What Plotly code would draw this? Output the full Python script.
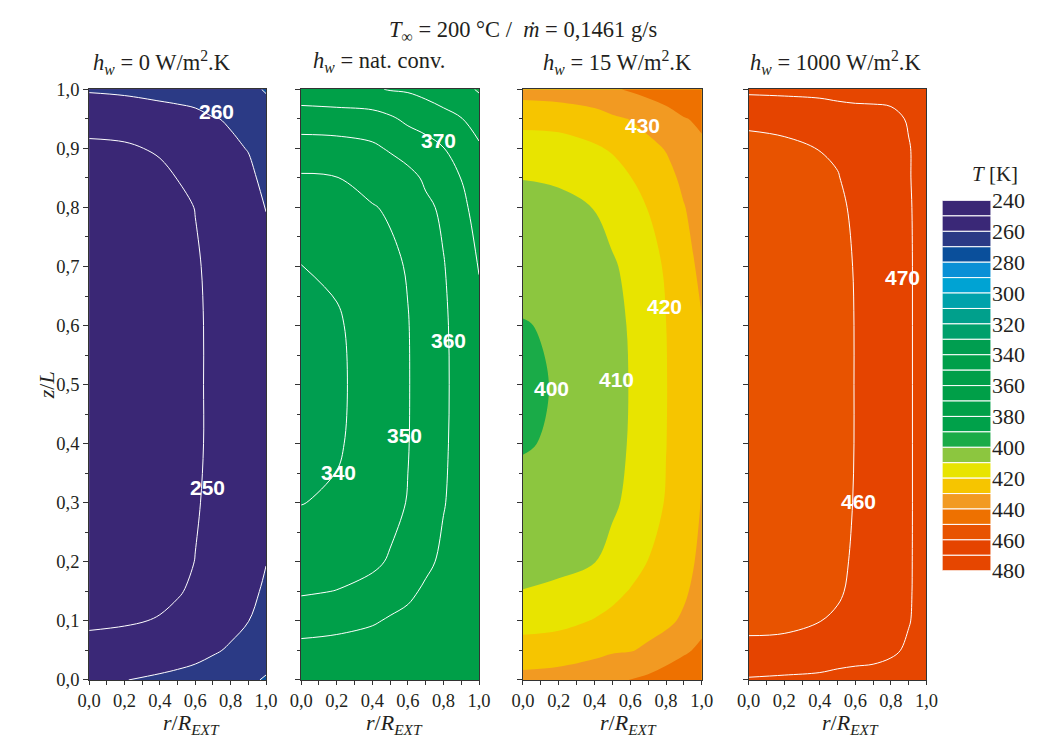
import plotly.graph_objects as go

# ---------------------------------------------------------------------------
# Grid of the temperature fields (dimensionless radius and height)
# ---------------------------------------------------------------------------
r_grid = [0.0, 0.2, 0.4, 0.5, 0.6, 0.7, 0.8, 0.9, 1.0]
z_grid = [0.0, 0.05, 0.1, 0.15, 0.2, 0.3, 0.4, 0.5, 0.6, 0.7, 0.8, 0.85, 0.9, 0.95, 1.0]

# Temperature fields T(z, r) in K, one row per z_grid value
T_hw0 = [
    [257.0, 259.8, 261.5, 262.5, 263.5, 265.0, 267.0, 268.5, 270.8],
    [252.5, 253.3, 254.5, 255.5, 257.0, 259.0, 261.0, 263.0, 266.0],
    [248.8, 249.3, 250.4, 251.5, 253.0, 255.5, 257.5, 259.9, 263.0],
    [247.3, 247.6, 248.5, 249.5, 251.0, 253.5, 255.5, 258.0, 261.2],
    [246.5, 246.8, 247.6, 248.5, 250.1, 252.3, 254.3, 256.8, 259.8],
    [246.0, 246.3, 247.2, 248.0, 249.5, 251.2, 253.0, 255.3, 257.8],
    [246.0, 246.3, 247.2, 248.0, 249.3, 250.8, 252.5, 254.5, 256.8],
    [246.0, 246.3, 247.2, 248.0, 249.3, 250.8, 252.5, 254.5, 256.5],
    [246.0, 246.3, 247.2, 248.0, 249.3, 250.8, 252.5, 254.5, 256.8],
    [246.0, 246.3, 247.2, 248.0, 249.5, 251.0, 252.8, 255.0, 257.5],
    [246.5, 246.8, 247.8, 248.9, 250.1, 251.8, 254.0, 257.0, 260.2],
    [247.2, 247.5, 248.8, 250.1, 251.3, 253.0, 256.0, 258.3, 262.0],
    [249.0, 249.3, 250.6, 251.8, 253.0, 255.0, 258.7, 260.3, 264.0],
    [252.0, 252.5, 254.0, 255.0, 256.5, 259.5, 260.8, 263.0, 267.0],
    [261.0, 262.0, 264.0, 265.0, 266.0, 267.0, 268.0, 268.5, 270.5],
]

T_natconv = [
    [365.0, 366.0, 367.0, 367.5, 368.0, 368.5, 369.0, 369.3, 369.5],
    [363.0, 363.5, 365.0, 366.0, 367.0, 367.5, 368.3, 369.0, 369.5],
    [355.5, 357.0, 359.0, 361.0, 362.5, 365.0, 366.5, 368.0, 369.3],
    [349.0, 350.2, 352.0, 355.5, 358.0, 361.5, 364.0, 366.5, 368.8],
    [345.0, 346.5, 348.8, 350.6, 354.0, 358.0, 361.8, 365.0, 368.3],
    [339.8, 341.2, 345.0, 348.0, 350.3, 355.0, 359.5, 363.5, 367.5],
    [337.8, 339.0, 343.8, 347.0, 349.7, 353.8, 358.9, 362.8, 366.8],
    [337.0, 338.5, 343.5, 346.8, 349.6, 353.5, 358.8, 362.5, 366.5],
    [337.5, 339.0, 343.8, 347.0, 349.7, 353.8, 358.9, 362.8, 367.5],
    [339.8, 341.5, 345.5, 348.5, 350.5, 355.0, 359.6, 364.0, 370.4],
    [346.0, 347.0, 349.6, 350.8, 354.0, 358.5, 361.3, 367.5, 374.0],
    [349.0, 349.8, 352.5, 354.5, 357.5, 361.2, 365.0, 370.2, 376.5],
    [355.5, 356.0, 358.3, 361.0, 363.5, 366.5, 369.8, 373.0, 379.0],
    [365.0, 365.5, 366.0, 368.5, 372.0, 374.0, 377.0, 379.7, 383.0],
    [376.0, 377.0, 379.0, 380.5, 381.0, 383.0, 385.0, 387.0, 391.0],
]

T_hw15 = [
    [433.0, 434.0, 436.0, 438.0, 440.2, 442.0, 445.0, 447.0, 449.0],
    [424.0, 425.0, 427.5, 429.0, 429.5, 431.5, 434.5, 438.5, 442.0],
    [416.5, 417.5, 420.5, 422.5, 424.0, 426.5, 428.0, 431.5, 437.0],
    [410.2, 411.2, 415.0, 417.5, 420.5, 423.0, 425.0, 428.5, 434.0],
    [407.5, 408.5, 409.8, 413.0, 416.5, 420.2, 423.0, 427.0, 432.0],
    [402.2, 404.0, 406.0, 408.5, 412.0, 416.0, 420.6, 426.2, 430.3],
    [399.5, 400.8, 404.8, 407.5, 410.6, 414.8, 419.8, 426.0, 429.7],
    [399.2, 400.3, 404.5, 407.5, 410.3, 414.5, 419.6, 426.0, 429.7],
    [399.6, 401.0, 404.8, 407.8, 410.6, 414.8, 419.9, 426.2, 429.7],
    [403.0, 404.0, 406.3, 409.0, 412.0, 416.0, 421.2, 427.5, 431.5],
    [407.5, 408.0, 410.2, 413.0, 416.5, 420.3, 424.5, 429.6, 434.0],
    [410.2, 411.0, 413.5, 416.0, 419.7, 423.5, 427.0, 432.0, 436.0],
    [415.0, 415.8, 418.8, 421.0, 424.5, 427.5, 430.5, 435.5, 438.5],
    [423.0, 423.5, 426.0, 428.5, 430.3, 433.0, 436.0, 439.5, 441.5],
    [434.0, 435.0, 437.0, 439.0, 441.0, 443.0, 445.0, 447.0, 448.0],
]

T_hw1000 = [
    [470.8, 471.5, 472.0, 473.0, 473.5, 474.0, 475.0, 476.0, 477.0],
    [462.0, 462.3, 464.0, 465.0, 466.0, 466.5, 468.3, 471.5, 475.0],
    [458.0, 458.3, 459.9, 460.8, 462.5, 464.5, 466.0, 469.5, 474.0],
    [457.0, 457.3, 458.8, 459.3, 461.2, 463.2, 465.0, 469.2, 473.5],
    [456.5, 456.8, 458.2, 459.2, 460.5, 462.5, 464.7, 469.2, 473.2],
    [456.2, 456.6, 457.9, 458.9, 460.2, 462.0, 464.5, 469.2, 473.0],
    [456.0, 456.5, 457.8, 458.8, 460.1, 461.8, 464.5, 469.2, 473.0],
    [456.0, 456.5, 457.8, 458.8, 460.1, 461.8, 464.5, 469.2, 473.0],
    [456.0, 456.5, 457.8, 458.8, 460.1, 461.8, 464.5, 469.2, 473.0],
    [456.2, 456.6, 457.9, 458.9, 460.2, 462.0, 464.6, 469.2, 473.0],
    [456.8, 457.2, 458.5, 459.3, 460.6, 462.5, 465.0, 469.3, 473.2],
    [457.5, 458.0, 459.2, 459.8, 461.3, 463.0, 465.5, 469.5, 473.5],
    [458.5, 459.0, 460.1, 460.6, 462.5, 464.0, 466.5, 469.5, 474.0],
    [461.0, 461.5, 463.0, 464.0, 465.0, 466.0, 467.5, 470.8, 475.0],
    [472.0, 472.5, 473.0, 474.0, 474.5, 474.0, 473.5, 475.0, 477.0],
]

panel_titles = [
    "<i>h</i><sub><i>w</i></sub> = 0 W/m<sup>2</sup>.K",
    "<i>h</i><sub><i>w</i></sub> = nat. conv.",
    "<i>h</i><sub><i>w</i></sub> = 15 W/m<sup>2</sup>.K",
    "<i>h</i><sub><i>w</i></sub> = 1000 W/m<sup>2</sup>.K",
]

# Contour levels (K) and the colour of each band between consecutive levels
levels = [240, 250, 260, 270, 280, 290, 300, 310, 320, 330, 340, 350, 360,
          370, 380, 390, 400, 410, 420, 430, 440, 450, 460, 470, 480]
band_colors = [
    "#3a2775", "#3a2877", "#2b3a85", "#0a4f9b", "#0a90d6", "#00a3d3",
    "#00a2ab", "#00a08c", "#00a06b", "#009e50", "#009f4a", "#009f49",
    "#009f48", "#00a048", "#00a14a", "#1aab48", "#8cc63f", "#e8e400",
    "#f6c500", "#f29a22", "#ee7100", "#e85300", "#e54400", "#e64600",
]
colorbar_ticks = [240, 260, 280, 300, 320, 340, 360, 380, 400, 420, 440, 460, 480]

x_tickvals = [0.0, 0.2, 0.4, 0.6, 0.8, 1.0]
x_ticktext = ["0,0", "0,2", "0,4", "0,6", "0,8", "1,0"]
y_tickvals = [0.0, 0.1, 0.2, 0.3, 0.4, 0.5, 0.6, 0.7, 0.8, 0.9, 1.0]
y_ticktext = ["0,0", "0,1", "0,2", "0,3", "0,4", "0,5", "0,6", "0,7", "0,8", "0,9", "1,0"]
top_tickvals = [0.0, 0.1, 0.2, 0.3, 0.4, 0.5, 0.6, 0.7, 0.8, 0.9, 1.0]

# Inline isotherm labels: (level, r, z) per panel
contour_labels = [
    [(260, 0.72, 0.962), (250, 0.668, 0.326)],
    [(370, 0.77, 0.913), (360, 0.826, 0.574), (350, 0.583, 0.414), (340, 0.21, 0.352)],
    [(430, 0.67, 0.939), (420, 0.79, 0.633), (410, 0.525, 0.509), (400, 0.157, 0.494)],
    [(470, 0.866, 0.681), (460, 0.62, 0.302)],
]

fields = [T_hw0, T_natconv, T_hw15, T_hw1000]
draw_lines = [True, True, False, True]

# ---------------------------------------------------------------------------
# Page geometry (pixels), converted to paper fractions
# ---------------------------------------------------------------------------
W, H = 1044, 749


def px(x):
    return x / W


def py(y):
    return 1 - y / H


panel_px = [(79, 260), (296, 478), (523, 706), (754, 936)]
panel_top, panel_bottom = 80, 691

serif = "Liberation Serif, Times New Roman, serif"
sans = "Liberation Sans, Arial, sans-serif"
ink = "#231f20"

# Discrete colour scale: each band keeps its colour over its whole value range
step = levels[1] - levels[0]
lo = levels[0] - step / 2
hi = levels[-1] + step / 2


def tpos(v):
    return (v - lo) / (hi - lo)


colorscale = [[0.0, band_colors[0]]]
for k, c in enumerate(band_colors):
    colorscale.append([tpos(levels[k]), c])
    colorscale.append([tpos(levels[k + 1]), c])
colorscale.append([1.0, band_colors[-1]])

fig = go.Figure()

for i, (T, lines) in enumerate(zip(fields, draw_lines), start=1):
    fig.add_trace(go.Contour(
        x=r_grid, y=z_grid, z=T,
        colorscale=colorscale,
        autocontour=False,
        contours=dict(start=levels[0], end=levels[-1], size=step,
                      coloring="fill", showlines=lines, showlabels=False),
        line=dict(color="white", width=1.0 if lines else 0, smoothing=1.0),
        showscale=False,
        hoverinfo="skip",
        xaxis=f"x{i}", yaxis=f"y{i}",
    ))

# Colour key drawn as stacked bands on its own reversed axis
band_width = [levels[k + 1] - levels[k] for k in range(len(band_colors))]
fig.add_trace(go.Bar(
    x=[0] * len(band_colors), y=band_width, base=levels[:-1],
    width=1.0,
    marker=dict(color=band_colors, line=dict(color="white", width=1)),
    hoverinfo="skip", showlegend=False,
    xaxis="x5", yaxis="y5",
))

layout = dict(
    width=W, height=H,
    margin=dict(l=0, r=0, t=0, b=0),
    paper_bgcolor="white", plot_bgcolor="white",
    showlegend=False, barmode="overlay",
    font=dict(family=serif, color=ink),
)

for i, (x0, x1) in enumerate(panel_px, start=1):
    layout[f"xaxis{i}"] = dict(
        domain=[px(x0), px(x1)], range=[0, 1], anchor=f"y{i}",
        tickvals=x_tickvals, ticktext=x_ticktext,
        ticks="outside", ticklen=4, tickwidth=1, tickcolor="#333",
        minor=dict(dtick=0.1, ticks="outside", ticklen=4, tickwidth=1, tickcolor="#333"),
        showline=True, mirror=True, linecolor="#333", linewidth=1,
        showgrid=False, zeroline=False,
        tickfont=dict(family=serif, size=18.5, color=ink),
    )
    layout[f"yaxis{i}"] = dict(
        domain=[py(panel_bottom), py(panel_top)], range=[0, 1], anchor=f"x{i}",
        tickvals=y_tickvals, ticktext=y_ticktext, showticklabels=(i == 1),
        ticks="outside", ticklen=5, tickwidth=1, tickcolor="#333",
        minor=dict(dtick=0.05, ticks="outside", ticklen=3, tickwidth=1, tickcolor="#333"),
        showline=True, mirror=True, linecolor="#333", linewidth=1,
        showgrid=False, zeroline=False,
        tickfont=dict(family=serif, size=18.5, color=ink),
    )

# Inner tick marks along the top edge of the natural-convection panel
layout["xaxis6"] = dict(
    overlaying="x2", anchor="y2", side="top", range=[0, 1],
    tickvals=top_tickvals, showticklabels=False,
    ticks="inside", ticklen=4, tickwidth=1, tickcolor="#333",
    showline=False, showgrid=False, zeroline=False,
)

layout["xaxis5"] = dict(domain=[px(952), px(1002)], range=[-0.5, 0.5],
                        anchor="y5", visible=False)
layout["yaxis5"] = dict(
    domain=[py(578), py(195)], range=[levels[-1], levels[0]], anchor="x5",
    side="right", tickvals=colorbar_ticks, ticktext=[str(v) for v in colorbar_ticks],
    ticks="", showline=False, showgrid=False, zeroline=False,
    tickfont=dict(family=serif, size=22, color=ink),
)

annotations = []

# Main heading
annotations.append(dict(
    text="<i>T</i><sub>\u221e</sub> = 200 \u00b0C /  <i>\u1e41</i> = 0,1461 g/s",
    x=px(523), y=py(20), xref="paper", yref="paper", showarrow=False,
    xanchor="center", yanchor="middle", font=dict(family=serif, size=22.5, color=ink),
))

title_cx = [154, 376, 620, 843]
axis_cx = [184, 391, 631, 858]
for i, (title, cx, ax_cx) in enumerate(zip(panel_titles, title_cx, axis_cx), start=1):
    annotations.append(dict(
        text=title, x=px(cx), y=py(52), xref="paper", yref="paper", showarrow=False,
        xanchor="center", yanchor="middle", font=dict(family=serif, size=22.5, color=ink),
    ))
    annotations.append(dict(
        text="<i>r</i>/<i>R</i><sub><i>EXT</i></sub>", x=px(ax_cx), y=py(737),
        xref="paper", yref="paper", showarrow=False, xanchor="center", yanchor="middle",
        font=dict(family=serif, size=22, color=ink),
    ))
    for level, r, z in contour_labels[i - 1]:
        annotations.append(dict(
            text=f"<b>{level}</b>", x=r, y=z, xref=f"x{i}", yref=f"y{i}",
            showarrow=False, xanchor="center", yanchor="middle",
            font=dict(family=sans, size=21, color="white"),
        ))

annotations.append(dict(
    text="<i>z</i>/<i>L</i>", x=px(35), y=py(386), xref="paper", yref="paper",
    showarrow=False, textangle=-90, xanchor="center", yanchor="middle",
    font=dict(family=serif, size=22, color=ink),
))
annotations.append(dict(
    text="<i>T</i> [K]", x=px(1006), y=py(168), xref="paper", yref="paper",
    showarrow=False, xanchor="center", yanchor="middle",
    font=dict(family=serif, size=21, color=ink),
))

layout["annotations"] = annotations
fig.update_layout(**layout)

fig.write_html("out.html")
